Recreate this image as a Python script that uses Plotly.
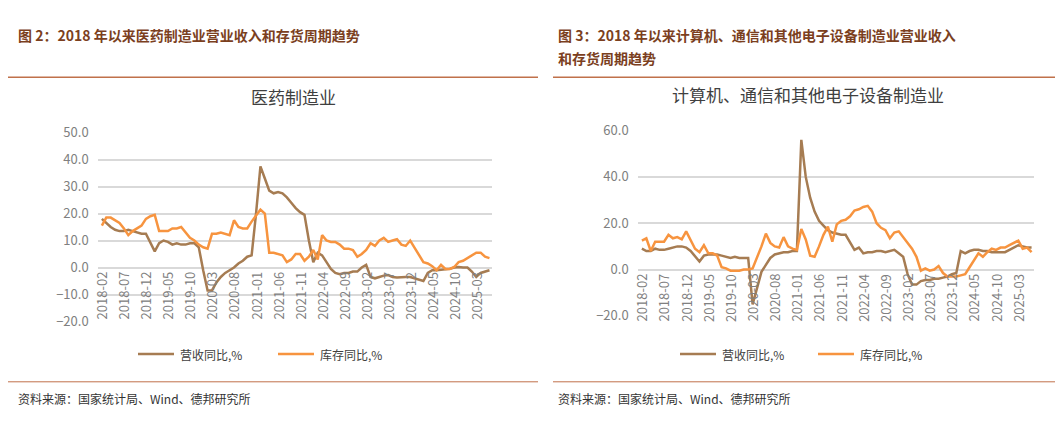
import plotly.graph_objects as go
import pandas as pd

months = [d.strftime("%Y-%m") for d in pd.date_range("2018-02-01", "2025-06-01", freq="MS")]

pharma_rev = [18,16.5,15,14,13.5,13.5,14,13.5,13,12.5,12.5,
 9,6,9,10,9.5,8.5,9,8.5,8.5,9,9,7.5,
 -1,-8.5,-8.5,-5.5,-3.5,-2,-1,0,1.5,2.5,4,4.5,
 20,37.5,33,28.5,27.5,28,27.5,26,24,22,20.5,19.5,
 10,2,5.5,4.5,2,-0.5,-2,-2.5,-2,-2,-1.5,-1.5,
 0,1,-3.5,-4,-3.5,-3,-2.8,-3.5,-3.7,-3.5,-3.5,-3.5,
 -4,-4.5,-5,-2,-1,-1,-0.8,-0.5,-0.5,0,0.2,0,
 0,-1.5,-3.5,-2,-1.5,-1]
pharma_inv = [15.5,18.5,18.5,17.5,16.5,14.5,12,13.5,14.5,15.5,18,
 19,19.5,13.5,13.5,13.5,14.5,14.5,15,13,11,10,8.5,
 7.5,7,12.5,12.5,13,12.5,12,17.5,15,14.5,14.5,17,
 19.5,21.5,20,5.5,5.5,5,4.5,2,3,5,5,2.5,
 4,6.5,3,12,10,9.5,9.5,8.5,7,7,6.5,4,
 5,6.5,9,8,10,11,9.5,10,10.5,8.5,8,10,
 7.5,4.5,2,1.5,0.5,-1,1,-0.5,-0.5,0.2,2,2.5,
 3.5,4.5,5.5,5.5,4,3.5]
elec_rev = [9,8,8,9,8.5,8.5,9,9.5,10,10,9.5,
 8,5.5,3.5,6,6.5,6.5,6.5,6,5.5,5,5.5,5,
 5,5,-15,-8,-1,2,5,6.5,7,7.5,7.5,8,
 8,56,40,31,25,21,19,17,16,15.5,15,15,
 12,8.5,9.5,7,7.5,7.5,8,8,7.5,8,8.5,7,
 5.5,-2,-6.5,-6.5,-5,-4.5,-4.5,-4,-4,-3.5,-3,-2,
 -1.5,8,7,8,8.5,8.5,8,8,7.5,7.5,7.5,7.5,
 8.5,9.5,10.5,10,9.5,9.5]
elec_inv = [12.5,13.5,8,12,12,12,15,13.5,14,13,16.5,
 12.5,9,7.5,10.5,7,7,6,1,0.5,-0.5,-0.5,-0.5,
 0,0,0.5,5,10,15.5,11.5,10,9.5,14,10,9,
 8.5,17.5,13,6,5.5,10,15,18.5,12,19.5,21,21.5,
 23,25.5,26,27,27.5,25,20,18,17,13.5,16,16.5,
 14,12,9,5.5,-0.5,0.5,-0.5,0,1.5,-1.5,-3,-3,
 -3,-2.5,-2,1,4,7,5.5,7.5,9,8.5,9.5,9.5,
 10.5,11.5,12.5,9,9.5,7.5]

BROWN = "#A67C52"
ORANGE = "#F7943F"
GREY = "#808080"
FONT = "Noto Sans CJK SC"
ticks = months[::5]

fig = go.Figure()
for i, (rev, inv) in enumerate([(pharma_rev, pharma_inv), (elec_rev, elec_inv)]):
    xa = "x" if i == 0 else "x2"
    ya = "y" if i == 0 else "y2"
    fig.add_trace(go.Scatter(x=months, y=rev, mode="lines", line=dict(color=BROWN, width=2.5), xaxis=xa, yaxis=ya, showlegend=False))
    fig.add_trace(go.Scatter(x=months, y=inv, mode="lines", line=dict(color=ORANGE, width=2.5), xaxis=xa, yaxis=ya, showlegend=False))

xcommon = dict(type="category", showticklabels=False,
               showgrid=False, showline=False, zeroline=False, ticks="",
               range=[-0.8, len(months)-0.5])
ycommon = dict(showgrid=True, gridcolor="#D9D9D9", gridwidth=1.5, zeroline=False, showline=False,
               tickformat=".1f", tickfont=dict(family=FONT, size=13, color=GREY), ticksuffix="   ")
fig.update_layout(
    width=1063, height=421, margin=dict(l=0, r=0, t=0, b=0),
    plot_bgcolor="white", paper_bgcolor="white", showlegend=False,
    xaxis=dict(domain=[0.085, 0.455], anchor="y", **xcommon),
    yaxis=dict(domain=[0.245, 0.715], range=[-20, 50], dtick=10, anchor="x", **ycommon),
    xaxis2=dict(domain=[0.593, 0.965], anchor="y2", **xcommon),
    yaxis2=dict(domain=[0.259, 0.72], range=[-20, 60], dtick=20, anchor="x2", **ycommon),
)

def px(x): return x / 1063
def py(y): return 1 - y / 421

ann = []
shapes = []
# x tick labels hanging from the zero line
for xr, yr in [("x", "y"), ("x2", "y2")]:
    for t in ticks:
        ann.append(dict(x=t, y=0, xref=xr, yref=yr, text=t, textangle=-90, xanchor="center", yanchor="top",
                        yshift=-2, showarrow=False, font=dict(family=FONT, size=13, color=GREY)))
HEAD = "#7B3F1E"
ann.append(dict(x=px(8), y=py(18), text="<b>图 2：2018 年以来医药制造业营业收入和存货周期趋势</b>", xanchor="left", yanchor="middle", font=dict(family=FONT, size=14, color=HEAD)))
ann.append(dict(x=px(548), y=py(18), text="<b>图 3：2018 年以来计算机、通信和其他电子设备制造业营业收入</b>", xanchor="left", yanchor="middle", font=dict(family=FONT, size=14, color=HEAD)))
ann.append(dict(x=px(548), y=py(42), text="<b>和存货周期趋势</b>", xanchor="left", yanchor="middle", font=dict(family=FONT, size=14, color=HEAD)))
ann.append(dict(x=px(285), y=py(82), text="医药制造业", xanchor="center", yanchor="middle", font=dict(family=FONT, size=17, color="#404040")))
ann.append(dict(x=px(800), y=py(80), text="计算机、通信和其他电子设备制造业", xanchor="center", yanchor="middle", font=dict(family=FONT, size=17, color="#404040")))
for (x0, label, col) in [(130, "营收同比,%", BROWN), (270, "库存同比,%", ORANGE), (672, "营收同比,%", BROWN), (810, "库存同比,%", ORANGE)]:
    shapes.append(dict(type="line", xref="paper", yref="paper", x0=px(x0), x1=px(x0+36), y0=py(352), y1=py(352), line=dict(color=col, width=2.5)))
    ann.append(dict(x=px(x0+40), y=py(352), text=label, xanchor="left", yanchor="middle", font=dict(family=FONT, size=12, color="#404040")))
for (x0, x1) in [(0, 530), (545, 1063)]:
    shapes.append(dict(type="line", xref="paper", yref="paper", x0=px(x0), x1=px(x1), y0=py(62), y1=py(62), line=dict(color="#C0714A", width=1.5)))
    shapes.append(dict(type="line", xref="paper", yref="paper", x0=px(x0), x1=px(x1), y0=py(381), y1=py(381), line=dict(color="#C0714A", width=1)))
ann.append(dict(x=px(8), y=py(398), text="资料来源：国家统计局、Wind、德邦研究所", xanchor="left", yanchor="middle", font=dict(family=FONT, size=12, color="#333333")))
ann.append(dict(x=px(548), y=py(398), text="资料来源：国家统计局、Wind、德邦研究所", xanchor="left", yanchor="middle", font=dict(family=FONT, size=12, color="#333333")))
for a in ann:
    a.setdefault("xref", "paper")
    a.setdefault("yref", "paper")
    a["showarrow"] = False
fig.update_layout(annotations=ann, shapes=shapes)
fig.write_html("out.html")
